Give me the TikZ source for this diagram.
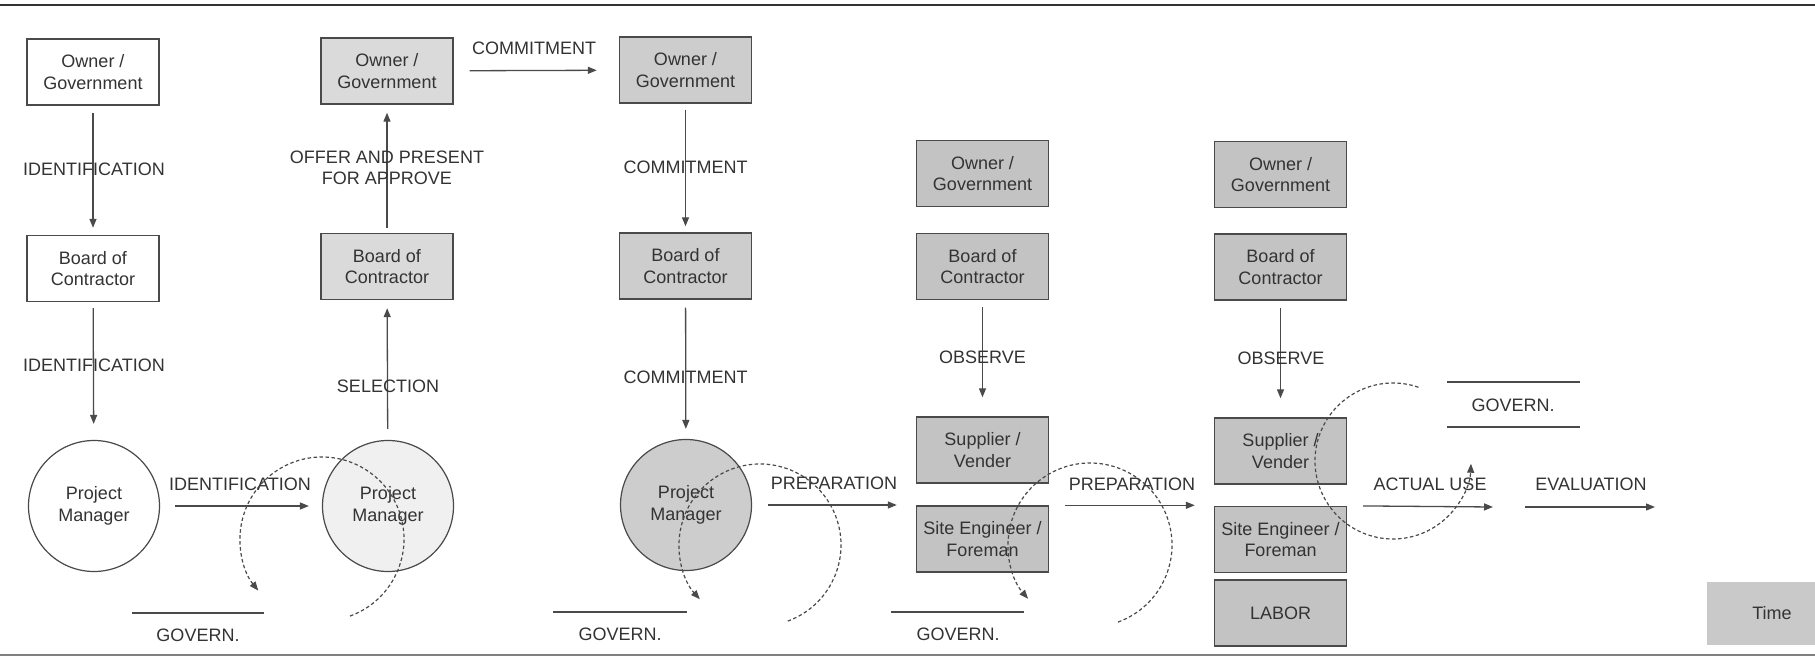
\documentclass[tikz,border=0pt]{standalone}
\usepackage{fontspec}
\setmainfont{Liberation Sans}
\usetikzlibrary{arrows.meta,calc}

\definecolor{ink}{HTML}{333333}
\definecolor{lineink}{HTML}{4A4A4A}
\definecolor{paleshade}{HTML}{F0F0F0}
\definecolor{lightshade}{HTML}{DADADA}
\definecolor{midshade}{HTML}{CDCDCD}
\definecolor{darkshade}{HTML}{C3C3C3}
\definecolor{timeshade}{HTML}{C9C9C9}

\begin{document}
\begin{tikzpicture}[x=1pt,y=1pt,
  every node/.style={font=\fontsize{18}{21.5}\selectfont, text=ink},
  party/.style={draw=lineink, line width=1.4pt, minimum width=132pt,
    minimum height=66pt, inner sep=0pt, align=center},
  pm/.style={circle, draw=lineink, line width=1.2pt, minimum size=131pt,
    inner sep=0pt, align=center},
  flow/.style={draw=lineink, line width=1.3pt, -{Triangle[length=9pt,width=7pt]}},
  cyclearc/.style={draw=lineink, line width=1.2pt, dash pattern=on 3.5pt off 2.5pt,
    -{Triangle[length=9pt,width=7pt]}},
  lbl/.style={inner sep=0pt, align=center},
  rule/.style={draw=lineink, line width=1.4pt}
]
\useasboundingbox (0,0) rectangle (1815,-658);
\clip (0,0) rectangle (1815,-658);
\fill[white] (0,0) rectangle (1815,-658);

% page rules
\draw[ink, line width=2pt] (0,-5) -- (1815,-5);
\draw[lineink!70, line width=1.6pt] (0,-655) -- (1815,-655);

% stage 1: identification
\node[party] (o1) at (93,-72) {Owner /\\Government};
\node[party] (b1) at (93,-268.5) {Board of\\Contractor};
\node[pm]    (p1) at (94,-506) {Project\\Manager};

% stage 2: selection
\node[party, fill=lightshade] (o2) at (387,-71) {Owner /\\Government};
\node[party, fill=lightshade] (b2) at (387,-266.5) {Board of\\Contractor};
\node[pm, fill=paleshade]     (p2) at (388,-506) {Project\\Manager};

% stage 3: commitment
\node[party, fill=midshade] (o3) at (685.5,-70) {Owner /\\Government};
\node[party, fill=midshade] (b3) at (685.5,-266) {Board of\\Contractor};
\node[pm, fill=midshade]    (p3) at (686,-505) {Project\\Manager};

% stage 4: preparation
\node[party, fill=darkshade] (o4) at (982.5,-173.5) {Owner /\\Government};
\node[party, fill=darkshade] (b4) at (982.5,-266.5) {Board of\\Contractor};
\node[party, fill=darkshade] (s4) at (982.5,-450) {Supplier /\\Vender};
\node[party, fill=darkshade] (e4) at (982.5,-539) {Site Engineer /\\Foreman};

% stage 5: actual use
\node[party, fill=darkshade] (o5) at (1280.5,-174.5) {Owner /\\Government};
\node[party, fill=darkshade] (b5) at (1280.5,-267) {Board of\\Contractor};
\node[party, fill=darkshade] (s5) at (1280.5,-451) {Supplier /\\Vender};
\node[party, fill=darkshade] (e5) at (1280.5,-539.5) {Site Engineer /\\Foreman};
\node[party, fill=darkshade] (l5) at (1280.5,-613) {LABOR};

% time marker
\node[fill=timeshade, minimum width=130pt, minimum height=63pt, inner sep=0pt] (time) at (1772,-613.5) {Time};

% connectors
\draw[flow, shorten <=7pt, shorten >=7pt] (o1) -- (b1);
\draw[flow, shorten <=6pt, shorten >=16pt] (b1) -- (p1);
\draw[flow, shorten <=15pt, shorten >=13pt] (p1) -- (p2);
\draw[flow, shorten <=11pt, shorten >=8pt] (p2) -- (b2);
\draw[flow, shorten <=5pt, shorten >=8pt] (b2) -- (o2);
\draw[flow, shorten <=16pt, shorten >=22pt] (o2) -- (o3);
\draw[flow, shorten <=6pt, shorten >=6pt] (o3) -- (b3);
\draw[flow, shorten <=8pt, shorten >=10pt] (b3) -- (p3);
\draw[flow, shorten <=16pt, shorten >=19pt] (p3.east) -- (p3.east -| e4.west);
\draw[flow, shorten <=7pt, shorten >=19pt] (b4) -- (s4);
\draw[flow, shorten <=16pt, shorten >=19pt] (e4.north east) -- (e4.north east -| e5.west);
\draw[flow, shorten <=7pt, shorten >=19pt] (b5) -- (s5);
\coordinate (useend) at (1493,-507);
\draw[flow, shorten <=16pt] (e5.north east) -- (useend);
\coordinate (evalstart) at (1525,-507);
\coordinate (evalend) at (1655,-507);
\draw[flow] (evalstart) -- (evalend);

% connector labels
\node[lbl] (l1) at (94,-169) {IDENTIFICATION};
\node[lbl] (l2) at (94,-365) {IDENTIFICATION};
\node[lbl] (l3) at (240,-484) {IDENTIFICATION};
\node[lbl] (l4) at (387,-168) {OFFER AND PRESENT\\FOR APPROVE};
\node[lbl] (l5l) at (388,-386) {SELECTION};
\node[lbl] (l6) at (534,-48) {COMMITMENT};
\node[lbl] (l7) at (685.5,-167) {COMMITMENT};
\node[lbl] (l8) at (685.5,-377) {COMMITMENT};
\node[lbl] (l9) at (834,-483) {PREPARATION};
\node[lbl] (l10) at (982.5,-357) {OBSERVE};
\node[lbl] (l11) at (1132,-484) {PREPARATION};
\node[lbl] (l12) at (1281,-358) {OBSERVE};
\node[lbl] (l13) at (1430,-484) {ACTUAL USE};
\node[lbl] (l14) at (1591,-484) {EVALUATION};

% governance bars
\node[lbl] (g1) at (198,-635) {GOVERN.};
\draw[rule] ([shift={(-66,22)}]g1.center) -- ([shift={(66,22)}]g1.center);
\node[lbl] (g2) at (620,-634) {GOVERN.};
\draw[rule] ([shift={(-67,22)}]g2.center) -- ([shift={(67,22)}]g2.center);
\node[lbl] (g3) at (958,-634) {GOVERN.};
\draw[rule] ([shift={(-67,22)}]g3.center) -- ([shift={(66,22)}]g3.center);
\node[lbl] (g4) at (1513,-405) {GOVERN.};
\draw[rule] ([shift={(-66,23)}]g4.center) -- ([shift={(67,23)}]g4.center);
\draw[rule] ([shift={(-66,-22)}]g4.center) -- ([shift={(67,-22)}]g4.center);

% governance cycles
\coordinate (r1) at (322,-539);
\draw[cyclearc] ([shift={(-70:82)}]r1) arc[start angle=-70, end angle=219, radius=82];
\coordinate (r2) at (760,-545);
\draw[cyclearc] ([shift={(-70:81)}]r2) arc[start angle=-70, end angle=222, radius=81];
\coordinate (r3) at (1090,-545);
\draw[cyclearc] ([shift={(-70:82)}]r3) arc[start angle=-70, end angle=221, radius=82];
\coordinate (r4) at (1393,-461);
\draw[cyclearc] ([shift={(71:78)}]r4) arc[start angle=71, end angle=358, radius=78];
\end{tikzpicture}
\end{document}
